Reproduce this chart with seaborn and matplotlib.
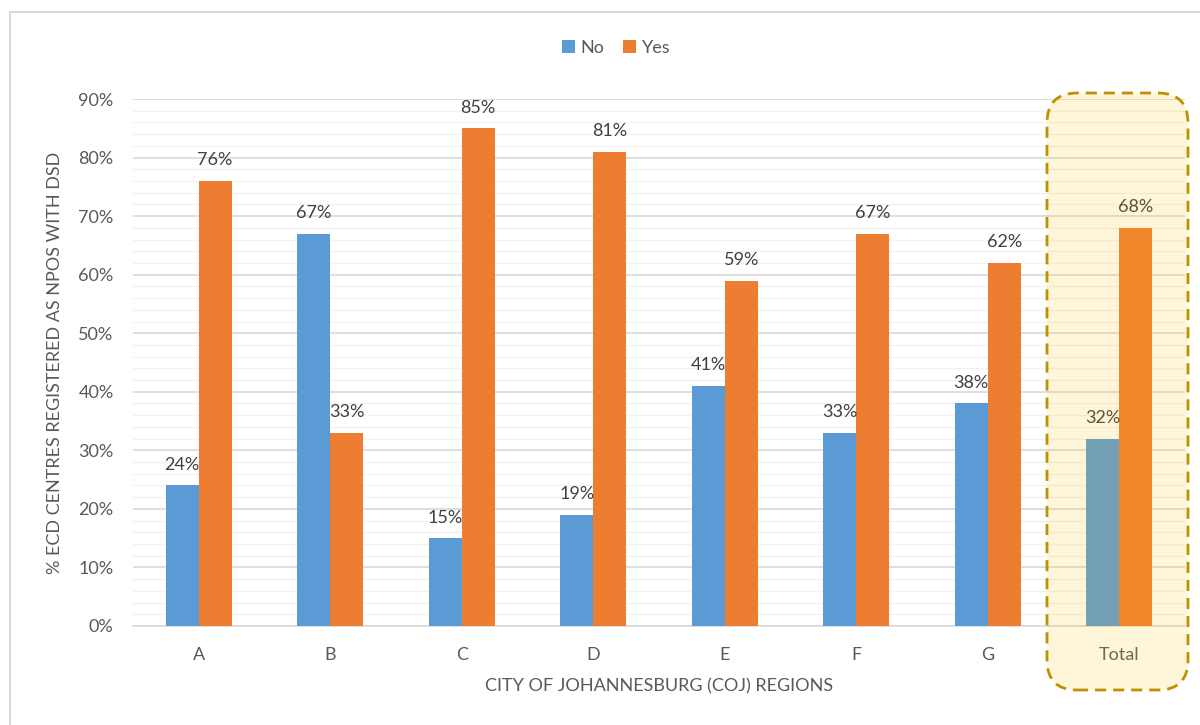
import matplotlib
matplotlib.use("Agg")
import matplotlib.pyplot as plt
import seaborn as sns
import pandas as pd
import numpy as np
from matplotlib.patches import FancyBboxPatch, Rectangle
from matplotlib.ticker import MultipleLocator, FuncFormatter

regions = ["A", "B", "C", "D", "E", "F", "G", "Total"]
no_vals = [0.24, 0.67, 0.15, 0.19, 0.41, 0.33, 0.38, 0.32]
yes_vals = [0.76, 0.33, 0.85, 0.81, 0.59, 0.67, 0.62, 0.68]
series = ["No", "Yes"]
colors = ["#5B9BD5", "#ED7D31"]

df = pd.DataFrame({
    "Region": regions * 2,
    "Value": no_vals + yes_vals,
    "Answer": ["No"] * len(regions) + ["Yes"] * len(regions),
})

sns.set_theme(style="white")
plt.rcParams["font.family"] = ["Lato", "DejaVu Sans"]
text_color = "#595959"
fs = 13

fig = plt.figure(figsize=(12, 7.25), dpi=100)
ax = fig.add_axes([133 / 1200, 1 - 626 / 725, (1185 - 133) / 1200, (626 - 99) / 725])

sns.barplot(data=df, x="Region", y="Value", hue="Answer", order=regions,
            hue_order=series, palette=colors, width=0.5, gap=0,
            saturation=1, ax=ax, legend=True, zorder=3, linewidth=0)

ax.set_ylim(0, 0.9)
ax.yaxis.set_major_locator(MultipleLocator(0.1))
ax.yaxis.set_minor_locator(MultipleLocator(0.02))
ax.yaxis.set_major_formatter(FuncFormatter(lambda v, p: f"{v * 100:.0f}%"))
ax.grid(axis="y", which="major", color="#D9D9D9", linewidth=1.2, zorder=0)
ax.grid(axis="y", which="minor", color="#F2F2F2", linewidth=1.0, zorder=0)
ax.set_axisbelow(True)
for s in ["top", "right", "left"]:
    ax.spines[s].set_visible(False)
ax.spines["bottom"].set_color("#D9D9D9")
ax.spines["bottom"].set_linewidth(1.2)
ax.tick_params(axis="both", which="both", length=0, labelsize=fs,
               labelcolor=text_color)
ax.tick_params(axis="x", pad=15)
ax.tick_params(axis="y", pad=14)

ax.set_ylabel("% ECD CENTRES REGISTERED AS NPOS WITH DSD", fontsize=fs,
              color=text_color, labelpad=11)
ax.set_xlabel("CITY OF JOHANNESBURG (COJ) REGIONS", fontsize=fs,
              color=text_color, labelpad=11)

for cont in ax.containers:
    ax.bar_label(cont, labels=[f"{b.get_height() * 100:.0f}%" for b in cont],
                 padding=9, fontsize=fs, color="#404040")

leg = ax.legend(loc="center", bbox_to_anchor=(616 / 1200, 1 - 48 / 725),
                bbox_transform=fig.transFigure, ncol=2, frameon=False,
                fontsize=fs, handlelength=0.75, handleheight=0.75,
                handletextpad=0.3, columnspacing=1.0)
for t in leg.get_texts():
    t.set_color(text_color)

# outer chart border
fig.patches.append(Rectangle((10 / 1200, -0.05), 1.2, 1 - 12 / 725 + 0.05,
                             transform=fig.transFigure, facecolor="none",
                             edgecolor="#D9D9D9", linewidth=1.5, zorder=0))

# highlight box around Total
x0, x1 = 1047 / 1200, 1188 / 1200
y0, y1 = 1 - 690 / 725, 1 - 93 / 725
fill = FancyBboxPatch((x0, y0), x1 - x0, y1 - y0,
                      boxstyle="round,pad=0,rounding_size=0.025",
                      transform=fig.transFigure, facecolor="#FFC000",
                      alpha=0.15, edgecolor="none", zorder=10,
                      mutation_aspect=1200 / 725)
edge = FancyBboxPatch((x0, y0), x1 - x0, y1 - y0,
                      boxstyle="round,pad=0,rounding_size=0.025",
                      transform=fig.transFigure, facecolor="none",
                      edgecolor="#BF9000", linewidth=2, linestyle=(0, (4, 2.5)),
                      zorder=11, mutation_aspect=1200 / 725)
fig.patches.append(fill)
fig.patches.append(edge)

fig.savefig("out.png", dpi=100)
